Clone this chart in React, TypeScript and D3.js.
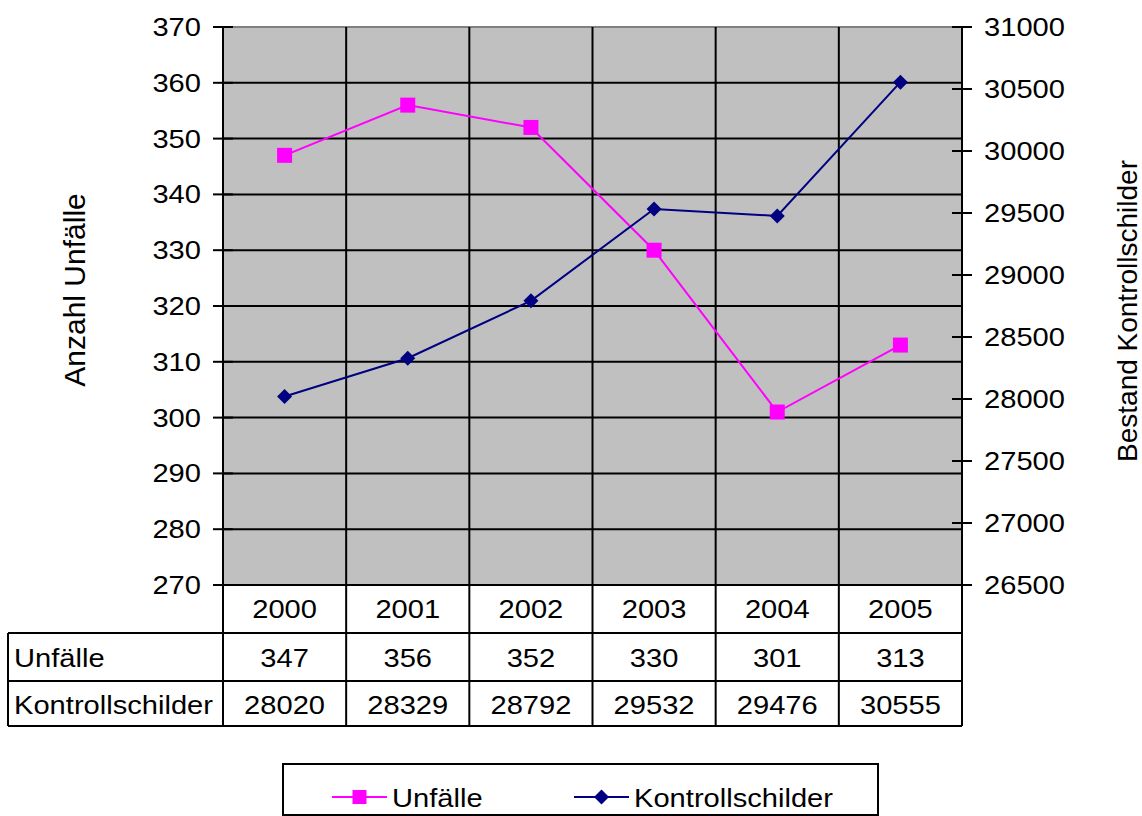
import * as d3 from 'd3';

const years = ['2000', '2001', '2002', '2003', '2004', '2005'];
const unfaelle = [347, 356, 352, 330, 301, 313];
const kontrollschilder = [28020, 28329, 28792, 29532, 29476, 30555];
const leftTicks = [270, 280, 290, 300, 310, 320, 330, 340, 350, 360, 370];
const rightTicks = [26500, 27000, 27500, 28000, 28500, 29000, 29500, 30000, 30500, 31000];

const W = 1142;
const H = 816;
const plot = { left: 223, right: 962, top: 27, bottom: 585 };
const rows = { header: 633, r1: 681, r2: 726 };
const tableLeft = 8;
const FONT = '"Liberation Sans", Arial, sans-serif';
const FS = 26;
const SX = 1.12; // text in the source is a bit wider than tall

const MAGENTA = '#FF00FF';
const NAVY = '#000080';

function T({ x, y, anchor = 'start', children }: { x: number; y: number; anchor?: string; children: any }) {
  return (
    <text
      transform={`translate(${x},${y}) scale(${SX},1)`}
      textAnchor={anchor}
      fontSize={FS}
      fontFamily={FONT}
      fill="#000"
    >
      {children}
    </text>
  );
}

export default function App() {
  const x = d3.scaleBand<string>().domain(years).range([plot.left, plot.right]);
  const yL = d3.scaleLinear().domain([270, 370]).range([plot.bottom, plot.top]);
  const yR = d3.scaleLinear().domain([26500, 31000]).range([plot.bottom, plot.top]);
  const cx = (d: string) => (x(d) ?? 0) + x.bandwidth() / 2;

  const lineL = d3.line<number>().x((_, i) => cx(years[i])).y((d) => yL(d));
  const lineR = d3.line<number>().x((_, i) => cx(years[i])).y((d) => yR(d));

  const colEdges = years.map((d) => x(d) ?? 0).concat([plot.right]);

  const sq = 15;
  const dm = 7.5;
  const diamond = (px: number, py: number) =>
    `M${px},${py - dm}L${px + dm},${py}L${px},${py + dm}L${px - dm},${py}Z`;

  return (
    <svg width={W} height={H} style={{ position: 'absolute', left: 0, top: 0 }}>
      <rect x={0} y={0} width={W} height={H} fill="#fff" />
      {/* plot area */}
      <rect x={plot.left} y={plot.top} width={plot.right - plot.left} height={plot.bottom - plot.top} fill="#C0C0C0" />
      <line x1={plot.left} x2={plot.right} y1={plot.top} y2={plot.top} stroke="#808080" strokeWidth={2} />

      {/* horizontal gridlines */}
      {leftTicks.slice(1, -1).map((t) => (
        <line key={'g' + t} x1={plot.left} x2={plot.right} y1={yL(t)} y2={yL(t)} stroke="#000" strokeWidth={2} />
      ))}
      {/* vertical gridlines + table column lines */}
      {colEdges.map((e, i) => (
        <line key={'v' + i} x1={e} x2={e} y1={plot.top} y2={rows.r2} stroke="#000" strokeWidth={2} />
      ))}

      {/* left axis ticks & labels */}
      {leftTicks.map((t) => (
        <g key={'l' + t}>
          <line x1={plot.left - 10} x2={plot.left + 10} y1={yL(t)} y2={yL(t)} stroke="#000" strokeWidth={2} />
          <T x={201} y={yL(t) + 9} anchor="end">{t}</T>
        </g>
      ))}
      {/* right axis ticks & labels */}
      {rightTicks.map((t) => (
        <g key={'r' + t}>
          <line x1={plot.right - 10} x2={plot.right + 10} y1={yR(t)} y2={yR(t)} stroke="#000" strokeWidth={2} />
          <T x={984} y={yR(t) + 9}>{t}</T>
        </g>
      ))}

      {/* axis titles */}
      <text
        transform="translate(85,290) rotate(-90)"
        textAnchor="middle"
        fontSize={30}
        fontFamily={FONT}
      >
        Anzahl Unfälle
      </text>
      <text
        transform="translate(1137,311) rotate(-90)"
        textAnchor="middle"
        fontSize={28}
        fontFamily={FONT}
      >
        Bestand Kontrollschilder
      </text>

      {/* series */}
      <path d={lineL(unfaelle) ?? ''} fill="none" stroke={MAGENTA} strokeWidth={2} />
      {unfaelle.map((v, i) => (
        <rect key={'m' + i} x={cx(years[i]) - sq / 2} y={yL(v) - sq / 2} width={sq} height={sq} fill={MAGENTA} />
      ))}
      <path d={lineR(kontrollschilder) ?? ''} fill="none" stroke={NAVY} strokeWidth={2} />
      {kontrollschilder.map((v, i) => (
        <path key={'d' + i} d={diamond(cx(years[i]), yR(v))} fill={NAVY} />
      ))}

      {/* data table */}
      {[rows.header, rows.r1, rows.r2].map((yy) => (
        <line key={'h' + yy} x1={tableLeft} x2={plot.right} y1={yy} y2={yy} stroke="#000" strokeWidth={2} />
      ))}
      <line x1={plot.left} x2={plot.right} y1={plot.bottom} y2={plot.bottom} stroke="#000" strokeWidth={2} />
      <line x1={tableLeft} x2={tableLeft} y1={rows.header} y2={rows.r2} stroke="#000" strokeWidth={2} />
      {years.map((yr, i) => (
        <g key={'t' + yr}>
          <T x={cx(yr)} y={618} anchor="middle">{yr}</T>
          <T x={cx(yr)} y={667} anchor="middle">{unfaelle[i]}</T>
          <T x={cx(yr)} y={714} anchor="middle">{kontrollschilder[i]}</T>
        </g>
      ))}
      <T x={14} y={667}>Unfälle</T>
      <T x={14} y={714}>Kontrollschilder</T>

      {/* legend */}
      <rect x={283} y={764} width={595} height={51} fill="#fff" stroke="#000" strokeWidth={2} />
      <line x1={332} x2={387} y1={797} y2={797} stroke={MAGENTA} strokeWidth={2} />
      <rect x={359.5 - 7} y={797 - 7} width={14} height={14} fill={MAGENTA} />
      <T x={392} y={807}>Unfälle</T>
      <line x1={574} x2={629} y1={797} y2={797} stroke={NAVY} strokeWidth={2} />
      <path d={diamond(601.5, 797)} fill={NAVY} />
      <T x={634} y={807}>Kontrollschilder</T>
    </svg>
  );
}
